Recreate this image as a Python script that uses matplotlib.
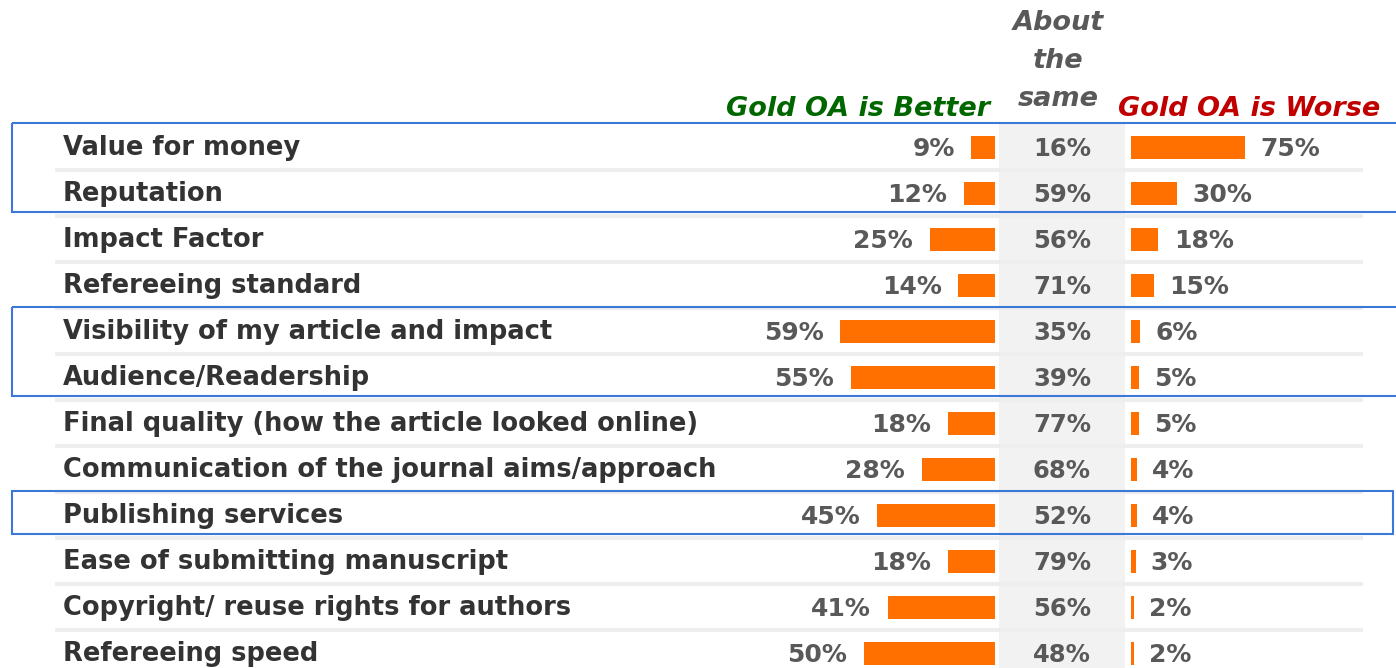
import matplotlib.pyplot as plt
from matplotlib.patches import Rectangle

labels = [
    "Value for money",
    "Reputation",
    "Impact Factor",
    "Refereeing standard",
    "Visibility of my article and impact",
    "Audience/Readership",
    "Final quality (how the article looked online)",
    "Communication of the journal aims/approach",
    "Publishing services",
    "Ease of submitting manuscript",
    "Copyright/ reuse rights for authors",
    "Refereeing speed",
]
better = [9, 12, 25, 14, 59, 55, 18, 28, 45, 18, 41, 50]
same = [16, 59, 56, 71, 35, 39, 77, 68, 52, 79, 56, 48]
worse = [75, 30, 18, 15, 6, 5, 5, 4, 4, 3, 2, 2]

# groups of rows that get a blue outline (first row, last row)
boxed = [(0, 1), (4, 5), (8, 8)]

W, H = 1396, 668
row0, row_h = 147, 46
ypos = [row0 + row_h * i for i in range(len(labels))]

orange = "#ff7000"
label_col = "#333333"
pct_col = "#595959"
blue = "#3c78d8"

plt.rcParams["font.family"] = ["DejaVu Sans"]

fig = plt.figure(figsize=(W / 100, H / 100), dpi=100)

# background axes in pixel units
ax = fig.add_axes([0, 0, 1, 1])
ax.set_xlim(0, W)
ax.set_ylim(H, 0)
ax.axis("off")

# grey "about the same" column
ax.add_patch(Rectangle((999, 123), 126, H - 123, color="#f2f2f2", lw=0, zorder=0))

# separators between rows
for y in ypos:
    ax.plot([55, 1363], [y + 22.5, y + 22.5], color="#eeeeee", lw=3, zorder=0.5,
            solid_capstyle="butt")

for y, lab, s in zip(ypos, labels, same):
    ax.text(63, y + 1, lab, ha="left", va="center", fontsize=18.5, fontweight="bold",
            color=label_col)
    ax.text(1062, y + 2, f"{s}%", ha="center", va="center", fontsize=17.5,
            fontweight="bold", color=pct_col)

# headers
hdr = dict(fontsize=19.5, fontweight="bold", style="italic", va="baseline")
ax.text(990, 116, "Gold OA is Better", ha="right", color="#006600", **hdr)
ax.text(1118, 116, "Gold OA is Worse", ha="left", color="#c00000", **hdr)
for yb, word in zip([30, 68, 106], ["About", "the", "same"]):
    ax.text(1058, yb, word, ha="center", color=pct_col, **hdr)

# blue outlines
for first, last in boxed:
    top = ypos[first] - 24
    bot = ypos[last] + 19
    right = 1393 if first == last else W + 5
    ax.add_patch(Rectangle((12, top), right - 12, bot - top, fill=False,
                           edgecolor=blue, lw=1.5, zorder=3, clip_on=False))

# left bars: Gold OA is better
left_px, left_w = 400, 595
axl = fig.add_axes([left_px / W, 0, left_w / W, 1])
axl.set_xlim(left_w / 2.62, 0)
axl.set_ylim(H, 0)
axl.axis("off")
axl.barh(ypos, better, height=23, color=orange)
for y, v in zip(ypos, better):
    axl.annotate(f"{v}%", (v, y + 2), xytext=(-12, 0), textcoords="offset points",
                 ha="right", va="center", fontsize=18, fontweight="bold", color=pct_col)

# right bars: Gold OA is worse
right_px, right_w = 1131, W - 1131
axr = fig.add_axes([right_px / W, 0, right_w / W, 1])
axr.set_xlim(0, right_w / 1.52)
axr.set_ylim(H, 0)
axr.axis("off")
axr.barh(ypos, worse, height=23, color=orange)
for y, v in zip(ypos, worse):
    axr.annotate(f"{v}%", (v, y + 2), xytext=(11, 0), textcoords="offset points",
                 ha="left", va="center", fontsize=18, fontweight="bold", color=pct_col)

fig.savefig("out.png", dpi=100)
